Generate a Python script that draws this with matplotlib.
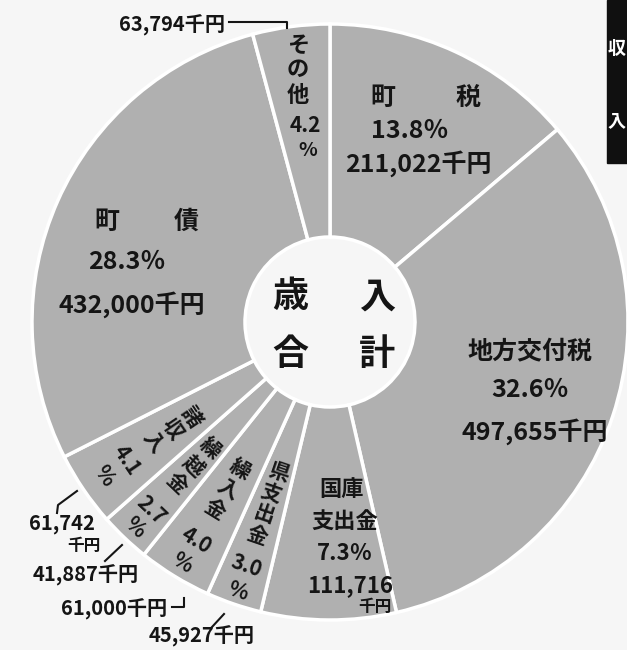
import numpy as np
import matplotlib.pyplot as plt
from matplotlib.patches import Rectangle

plt.rcParams['font.family'] = ['Noto Sans CJK JP', 'DejaVu Sans']
plt.rcParams['font.weight'] = 'bold'

# 歳入内訳（千円）
labels = ['町税', '地方交付税', '国庫支出金', '県支出金', '繰入金', '繰越金', '諸収入', '町債', 'その他']
amounts = [211022, 497655, 111716, 45927, 61000, 41887, 61742, 432000, 63794]
pct = ['13.8', '32.6', '7.3', '3.0', '4.0', '2.7', '4.1', '28.3', '4.2']

W, H = 627, 650
cx, cy = 330, 322      # 円の中心（ピクセル）
R, r_in = 298, 85

fig = plt.figure(figsize=(W / 100, H / 100), dpi=100)
fig.patch.set_facecolor('#f6f6f6')
ax = fig.add_axes([0, 0, 1, 1])

# y軸を反転しているので startangle=-90 / counterclock=True で「上から時計回り」になる
ax.pie(amounts, center=(cx, cy), radius=R, startangle=-90, counterclock=True,
       colors=['#b0b0b0'] * len(amounts),
       wedgeprops=dict(width=R - r_in, edgecolor='white', linewidth=2.5))
ax.set_xlim(0, W)
ax.set_ylim(H, 0)
ax.set_aspect('equal')
ax.axis('off')

frac = np.array(amounts) / sum(amounts)
cum = np.concatenate([[0], np.cumsum(frac)[:-1]])
mid = 90 - 360 * (cum + frac / 2)   # 画面上の角度（度）


def polar(ang, rr):
    a = np.deg2rad(ang)
    return cx + rr * np.cos(a), cy - rr * np.sin(a)


def t(x, y, s, size=18, color='#151515', **kw):
    ax.text(x, y, s, fontsize=size, ha='center', va='center', color=color, **kw)


# 中央
t(290, 297, '歳', 26); t(377, 297, '入', 26)
t(290, 355, '合', 26); t(377, 355, '計', 26)

# 町税
t(383, 98, '町'); t(468, 98, '税')
t(410, 131, pct[0] + '％')
t(418, 164, f'{amounts[0]:,}千円')

# 地方交付税
t(530, 352, labels[1])
t(530, 390, pct[1] + '％')
t(535, 432, f'{amounts[1]:,}千円')

# 国庫支出金
t(342, 490, '国庫', 16)
t(345, 522, '支出金', 16)
t(345, 553, pct[2] + '％', 16)
t(350, 586, f'{amounts[2]:,}', 16)
t(375, 607, '千円', 12)

# 町債
t(107, 222, '町'); t(186, 222, '債')
t(127, 262, pct[7] + '％')
t(132, 305, f'{amounts[7]:,}千円')

# その他（縦書き）
for s, y in zip('その他', [45, 70, 96]):
    t(298, y, s, 16)
t(305, 125, pct[8], 15)
t(308, 150, '%', 14)

# 小さい扇形は放射方向に縦書き
radial = {3: [159, 181, 203, 225, 258, 284],
          4: [172, 196, 220, 256, 282],
          5: [174, 198, 222, 260, 283],
          6: [168, 191, 214, 246, 273]}
for i, rs in radial.items():
    parts = list(labels[i]) + [pct[i], '%']
    rot = mid[i] + 90
    for s, rr in zip(parts, rs):
        x, y = polar(mid[i], rr)
        t(x, y, s, 15, rotation=rot, rotation_mode='anchor')

# 外側の金額と引き出し線
t(172, 25, f'{amounts[8]:,}千円', 14.5)
ax.plot([229, 287, 287], [22, 22, 28], color='#151515', lw=1.5)

t(62, 524, f'{amounts[6]:,}', 14.5)
t(84, 546, '千円', 12)
ax.plot([57, 58, 77], [513, 505, 491], color='#151515', lw=1.5)

t(86, 575, f'{amounts[5]:,}千円', 14.5)
ax.plot([105, 122], [561, 545], color='#151515', lw=1.5)

t(114, 609, f'{amounts[4]:,}千円', 14.5)
ax.plot([172, 184, 184], [607, 607, 598], color='#151515', lw=1.5)

t(202, 636, f'{amounts[3]:,}千円', 14.5)
ax.plot([212, 224], [627, 614], color='#151515', lw=1.5)

# 右上の見出し
ax.add_patch(Rectangle((607, 0), 30, 163, color='#101010', clip_on=True))
t(617, 48, '収', 13, color='white')
t(617, 122, '入', 13, color='white')

fig.savefig('out.png', dpi=100, facecolor=fig.get_facecolor())
